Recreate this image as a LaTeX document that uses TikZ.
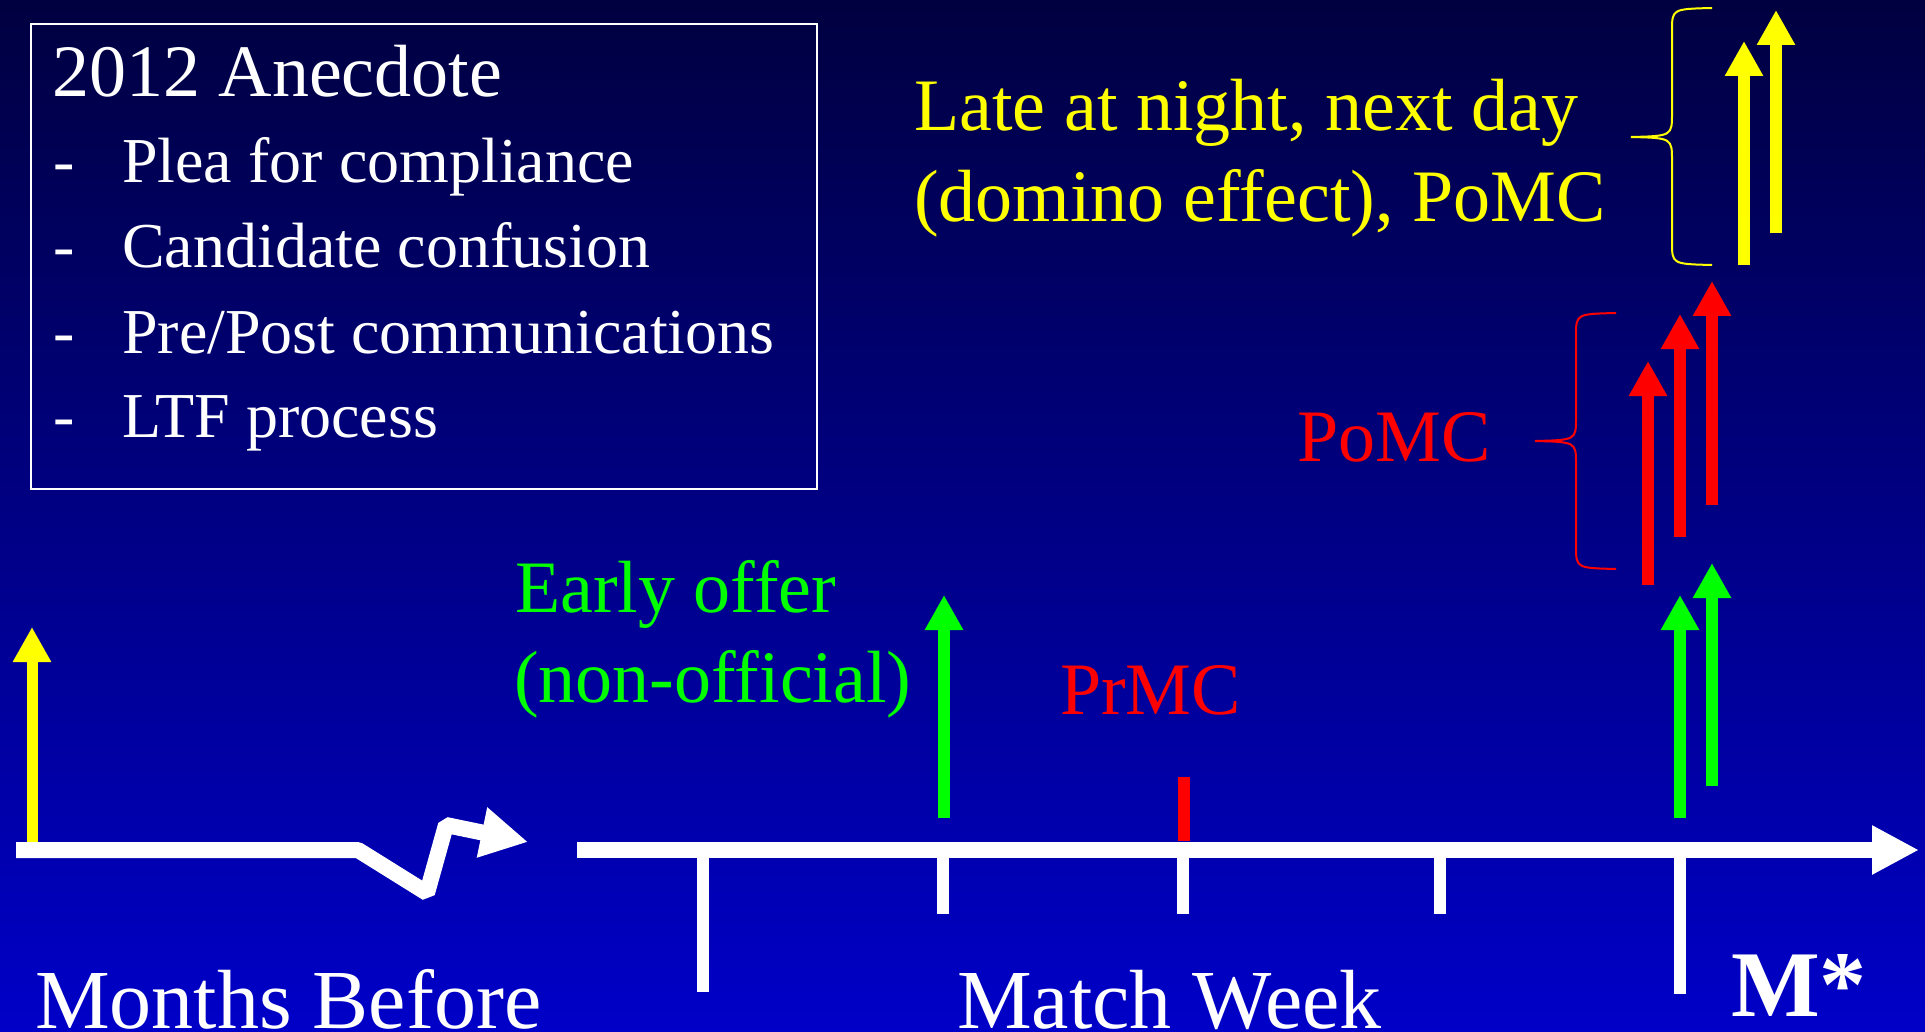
\documentclass[tikz,border=0pt]{standalone}
\usepackage{fontspec}
\setmainfont{Liberation Serif}
\usetikzlibrary{arrows.meta}
\definecolor{bgtop}{RGB}{0,0,64}
\definecolor{bgbot}{RGB}{0,0,200}
\definecolor{myyellow}{RGB}{255,255,0}
\definecolor{mygreen}{RGB}{0,255,0}
\definecolor{myred}{RGB}{255,0,0}
\begin{document}
\begin{tikzpicture}[x=1pt,y=-1pt,
  txt/.style={anchor=base west, inner sep=0pt, font=\fontsize{74}{80}\selectfont},
  item/.style={anchor=base west, inner sep=0pt, font=\fontsize{64}{70}\selectfont, text=white},
  big/.style={anchor=base west, inner sep=0pt, font=\fontsize{84}{90}\selectfont, text=white},
  varrow/.style={line width=12pt, -{Triangle[length=35pt,width=36pt]}},
  axisline/.style={white, line width=16pt},
  tickline/.style={white, line width=12pt},
  bracepath/.style={line width=2pt}
]
\useasboundingbox (0,0) rectangle (1925,1032);
\shade[top color=bgtop, bottom color=bgbot] (0,0) rectangle (1925,1032);

% info box
\draw[white, line width=2pt] (31,24) rectangle (817,489);
\node[txt, text=white] (title) at (52,97) {2012 Anecdote};
\node[item] (d1) at (53,183) {-};
\node[item] (t1) at (122,183) {Plea for compliance};
\node[item] (d2) at (53,268) {-};
\node[item] (t2) at (122,268) {Candidate confusion};
\node[item] (d3) at (53,353) {-};
\node[item] (t3) at (122,353) {Pre/Post communications};
\node[item] (d4) at (53,437) {-};
\node[item] (t4) at (122,437) {LTF process};

% left axis with break
\coordinate (l0) at (16,850);
\coordinate (l1) at (358,850);
\coordinate (l2) at (427,893);
\coordinate (l3) at (446,825);
\coordinate (l4) at (528,842);
\draw[axisline, line join=bevel, -{Triangle[length=47pt,width=48pt]}] (l0) -- (l1) -- (l2) -- (l3) -- (l4);

% left yellow arrow
\coordinate (ya0) at (32,842);
\coordinate (ya1) at (32,627);
\draw[varrow, myyellow, line width=11pt] (ya0) -- (ya1);

% main axis
\coordinate (ax0) at (577,850);
\coordinate (ax1) at (1919,850);
\draw[axisline, -{Triangle[length=47pt,width=46pt]}] (ax0) -- (ax1);

% ticks
\foreach \x/\y [count=\i] in {703/992, 943/914, 1183/914, 1440/914, 1680/994} {
  \coordinate (tk\i a) at (\x,850);
  \coordinate (tk\i b) at (\x,\y);
  \draw[tickline] (tk\i a) -- (tk\i b);
}

% red bar (PrMC)
\coordinate (rb0) at (1184,841);
\coordinate (rb1) at (1184,777);
\draw[myred, line width=12pt] (rb0) -- (rb1);

% green arrows
\coordinate (g1a) at (944,818);  \coordinate (g1b) at (944,595);
\coordinate (g2a) at (1680,818); \coordinate (g2b) at (1680,595);
\coordinate (g3a) at (1712,786); \coordinate (g3b) at (1712,563);
\draw[varrow, mygreen] (g1a) -- (g1b);
\draw[varrow, mygreen] (g2a) -- (g2b);
\draw[varrow, mygreen] (g3a) -- (g3b);

% red arrows
\coordinate (r1a) at (1648,585); \coordinate (r1b) at (1648,361);
\coordinate (r2a) at (1680,537); \coordinate (r2b) at (1680,314);
\coordinate (r3a) at (1712,505); \coordinate (r3b) at (1712,281);
\draw[varrow, myred] (r1a) -- (r1b);
\draw[varrow, myred] (r2a) -- (r2b);
\draw[varrow, myred] (r3a) -- (r3b);

% yellow arrows
\coordinate (y1a) at (1744,265); \coordinate (y1b) at (1744,41);
\coordinate (y2a) at (1776,233); \coordinate (y2b) at (1776,10);
\draw[varrow, myyellow] (y1a) -- (y1b);
\draw[varrow, myyellow] (y2a) -- (y2b);

% yellow brace
\coordinate (ybt) at (1712,8);
\coordinate (ybtip) at (1631,137);
\coordinate (ybb) at (1712,265);
\draw[bracepath, myyellow] (ybt) .. controls (1672,9) .. (1672,31) -- (1672,113)
  .. controls (1672,136) .. (ybtip) .. controls (1672,138) .. (1672,161) -- (1672,242)
  .. controls (1672,264) .. (ybb);

% red brace
\coordinate (rbt) at (1616,313);
\coordinate (rbtip) at (1535,441);
\coordinate (rbb) at (1616,569);
\draw[bracepath, myred] (rbt) .. controls (1576,314) .. (1576,336) -- (1576,418)
  .. controls (1576,440) .. (rbtip) .. controls (1576,442) .. (1576,464) -- (1576,546)
  .. controls (1576,568) .. (rbb);

% labels
\node[txt, text=myyellow] (late1) at (914,131) {Late at night, next day};
\node[txt, text=myyellow] (late2) at (914,222) {(domino effect), PoMC};
\node[txt, text=myred] (pomc) at (1297,461) {PoMC};
\node[txt, text=mygreen] (early1) at (515,612) {Early offer};
\node[txt, text=mygreen] (early2) at (514,702) {(non-official)};
\node[txt, text=myred] (prmc) at (1060,714) {PrMC};
\node[big] (match) at (957,1028) {Match Week};
\node[big] (months) at (35,1028) {Months Before};
\node[anchor=base west, inner sep=0pt, text=white, font=\fontsize{94}{100}\selectfont\bfseries] (mstar) at (1731,1016) {M*};
\end{tikzpicture}
\end{document}
